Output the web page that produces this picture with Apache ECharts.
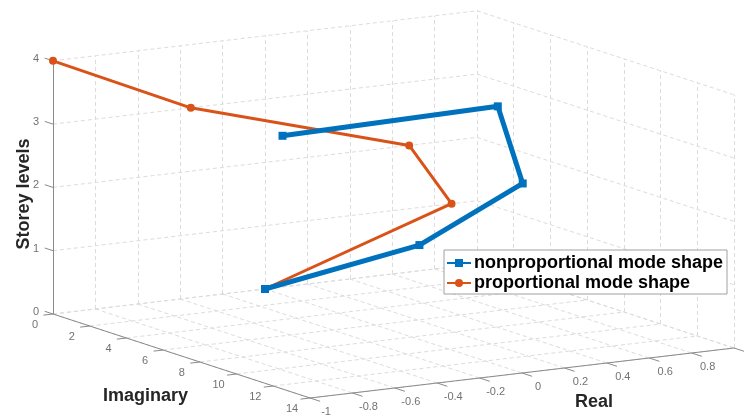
<!DOCTYPE html>
<html><head><meta charset="utf-8">
<script src="https://cdn.jsdelivr.net/npm/echarts@6/dist/echarts.min.js"></script>
<style>html,body{margin:0;padding:0;background:#fff}#c{width:744px;height:416px}</style>
</head><body><div id="c"></div>
<script>
// ---- data ----
const storeyLevels = [0, 1, 2, 3, 4];
const nonpropReal = [0, 0.33, 0.67, 0.73, -1.0];
const nonpropImag = [0, 4.6, 6.3, 4.25, 12.5];
const propReal = [0, 0.88, 0.68, -0.35, -1.0];
const propImag = [0, 0, 0, 0, 0];
const realTicks = [-1, -0.8, -0.6, -0.4, -0.2, 0, 0.2, 0.4, 0.6, 0.8, 1];
const realTickLabels = ['-1', '-0.8', '-0.6', '-0.4', '-0.2', '0', '0.2', '0.4', '0.6', '0.8', ''];
const imagTicks = [0, 2, 4, 6, 8, 10, 12, 14];
const storeyTicks = [0, 1, 2, 3, 4];
const seriesNames = ['nonproportional mode shape', 'proportional mode shape'];

const realRange = [-1, 1], imagRange = [0, 14], zRange = [0, 4];
// orthographic view (MATLAB-like 3D projection onto the 2D plane)
const view = {ox: 53, oy: 314, rx: 212, ry: -25, mx: 18.36, my: 6, zy: -63.3};
function P(r, m, z) {
  const a = r - realRange[0];
  return [view.ox + a * view.rx + m * view.mx, view.oy + a * view.ry + m * view.my + z * view.zy];
}

// grid lines on the three back planes
const gridSegs = [];
realTicks.forEach(r => {
  gridSegs.push({coords: [P(r, imagRange[0], zRange[0]), P(r, imagRange[0], zRange[1])]});
  gridSegs.push({coords: [P(r, imagRange[0], zRange[0]), P(r, imagRange[1], zRange[0])]});
});
storeyTicks.forEach(z => {
  gridSegs.push({coords: [P(realRange[0], imagRange[0], z), P(realRange[1], imagRange[0], z)]});
  gridSegs.push({coords: [P(realRange[1], imagRange[0], z), P(realRange[1], imagRange[1], z)]});
});
imagTicks.forEach(m => {
  gridSegs.push({coords: [P(realRange[1], m, zRange[0]), P(realRange[1], m, zRange[1])]});
  gridSegs.push({coords: [P(realRange[0], m, zRange[0]), P(realRange[1], m, zRange[0])]});
});

// axis lines and ticks
const axisSegs = [
  {coords: [P(realRange[0], imagRange[0], zRange[0]), P(realRange[0], imagRange[0], zRange[1])]},
  {coords: [P(realRange[0], imagRange[0], zRange[0]), P(realRange[0], imagRange[1], zRange[0])]},
  {coords: [P(realRange[0], imagRange[1], zRange[0]), P(realRange[1], imagRange[1], zRange[0])]}
];
realTicks.forEach(r => axisSegs.push({coords: [P(r, 14, 0), P(r, 14.55, 0)]}));
imagTicks.forEach(m => axisSegs.push({coords: [P(-1, m, 0), P(-1.045, m, 0)]}));
storeyTicks.forEach(z => axisSegs.push({coords: [P(-1, 0, z), P(-1, -0.45, z)]}));

function off(p, dx, dy) { return [p[0] + dx, p[1] + dy]; }
const tickLabelData = [];
realTicks.forEach((r, i) => { if (realTickLabels[i]) tickLabelData.push({name: realTickLabels[i], value: off(P(r, 14, 0), 16, 14)}); });
imagTicks.forEach(m => tickLabelData.push({name: String(m), value: off(P(-1, m, 0), -18, 11)}));
storeyTicks.forEach(z => tickLabelData.push({name: String(z), value: off(P(-1, 0, z), -17, -2)}));

const nonpropPts = storeyLevels.map((z, i) => P(nonpropReal[i], nonpropImag[i], z));
const propPts = storeyLevels.map((z, i) => P(propReal[i], propImag[i], z));

const chart = echarts.init(document.getElementById('c'), null, {renderer: 'canvas'});
chart.setOption({
  animation: false,
  backgroundColor: '#ffffff',
  grid: {left: 0, right: 0, top: 0, bottom: 0},
  xAxis: {type: 'value', min: 0, max: 744, show: false},
  yAxis: {type: 'value', min: 0, max: 416, inverse: true, show: false},
  legend: {
    data: seriesNames, orient: 'vertical', left: 444, top: 250,
    backgroundColor: '#fff', borderColor: '#a0a0a0', borderWidth: 1, borderRadius: 0,
    padding: [4, 4, 2, 2], itemGap: 2, itemWidth: 24, itemHeight: 10,
    textStyle: {fontFamily: 'Liberation Sans, Arial, sans-serif', fontWeight: 'bold', fontSize: 18, color: '#000', padding: [0, 0, 0, -2]}
  },
  series: [
    {type: 'lines', coordinateSystem: 'cartesian2d', silent: true, z: 1, data: gridSegs,
     lineStyle: {color: '#dcdcdc', width: 1, type: [4, 3], opacity: 1}},
    {type: 'lines', coordinateSystem: 'cartesian2d', silent: true, z: 2, data: axisSegs,
     lineStyle: {color: '#8a8a8a', width: 1, opacity: 1}},
    {type: 'scatter', silent: true, z: 2, symbolSize: 0, data: tickLabelData,
     label: {show: true, position: 'inside', formatter: p => p.name, color: '#4d4d4d', fontSize: 11,
             fontFamily: 'Liberation Sans, Arial, sans-serif'}},
    {name: seriesNames[1], type: 'line', z: 3, data: propPts, symbol: 'circle', symbolSize: 8,
     lineStyle: {color: '#D95319', width: 3}, itemStyle: {color: '#D95319'}},
    {name: seriesNames[0], type: 'line', z: 4, data: nonpropPts, symbol: 'rect', symbolSize: 8,
     lineStyle: {color: '#0072BD', width: 5}, itemStyle: {color: '#0072BD'}}
  ],
  graphic: [
    {type: 'text', x: 24, y: 194, rotation: Math.PI / 2, silent: true,
     style: {text: 'Storey levels', align: 'center', verticalAlign: 'middle',
             fontFamily: 'Liberation Sans, Arial, sans-serif', fontWeight: 'bold', fontSize: 18, fill: '#262626'}},
    {type: 'text', x: 103, y: 387, silent: true,
     style: {text: 'Imaginary', fontFamily: 'Liberation Sans, Arial, sans-serif', fontWeight: 'bold', fontSize: 18, fill: '#262626'}},
    {type: 'text', x: 575, y: 393, silent: true,
     style: {text: 'Real', fontFamily: 'Liberation Sans, Arial, sans-serif', fontWeight: 'bold', fontSize: 18, fill: '#262626'}}
  ]
});
</script></body></html>
